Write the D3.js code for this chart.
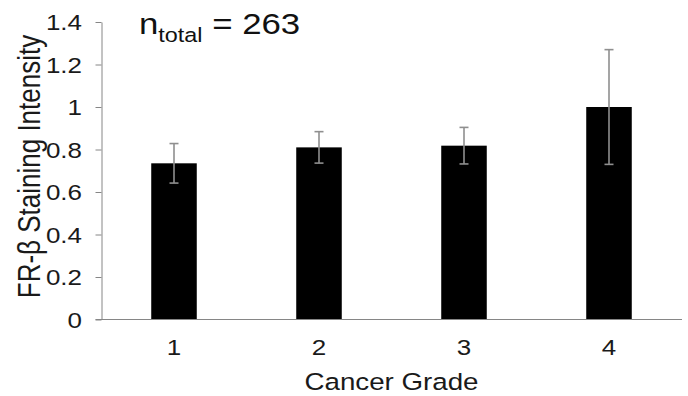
<!DOCTYPE html>
<html>
<head>
<meta charset="utf-8">
<script src="https://cdn.jsdelivr.net/npm/d3@7"></script>
<style>
  html, body { margin: 0; padding: 0; background: #fff; }
  svg { display: block; font-family: "Liberation Sans", Arial, sans-serif; }
</style>
</head>
<body>
<svg id="chart" width="688" height="396"></svg>
<script>
// Mean FR-β staining intensity by cancer grade, with error bars
const grades = ["1", "2", "3", "4"];
const meanIntensity = [0.735, 0.81, 0.818, 1.0];
const errorHalf = [0.093, 0.074, 0.086, 0.27];
const yTicks = [0, 0.2, 0.4, 0.6, 0.8, 1, 1.2, 1.4];
const yTickLabels = ["0", "0.2", "0.4", "0.6", "0.8", "1", "1.2", "1.4"];

const svg = d3.select("#chart");
const stretch = 1.18;          // text is drawn slightly wide
const axisColor = "#868686";
const errColor = "#8f8f8f";
const textColor = "#1a1a1a";
const fontFamily = "'Liberation Sans', Arial, sans-serif";

const x = d3.scaleBand()
  .domain(grades)
  .range([101.5, 681.5])
  .paddingInner(0.686)
  .paddingOuter(0.343);

const y = d3.scaleLinear()
  .domain([0, 1.4])
  .range([319.5, 22]);

// Y axis
const yAxis = svg.append("g")
  .attr("transform", "translate(101.5,0)")
  .call(d3.axisLeft(y)
    .tickValues(yTicks)
    .tickFormat((d, i) => yTickLabels[i])
    .tickSize(6)
    .tickSizeOuter(0));
yAxis.attr("font-family", fontFamily).attr("font-size", 22);
yAxis.select(".domain").attr("stroke", axisColor);
yAxis.selectAll(".tick line").attr("stroke", axisColor);
yAxis.selectAll(".tick text")
  .attr("x", null).attr("dy", null)
  .attr("transform", "translate(-19.5,7.8) scale(" + stretch + ",1)")
  .attr("text-anchor", "end")
  .attr("fill", textColor);

// Bars
svg.append("g").selectAll("rect")
  .data(grades)
  .join("rect")
  .attr("x", d => x(d))
  .attr("width", x.bandwidth())
  .attr("y", (d, i) => y(meanIntensity[i]))
  .attr("height", (d, i) => y(0) - y(meanIntensity[i]))
  .attr("fill", "#000");

// Error bars
const eb = svg.append("g")
  .attr("stroke", errColor)
  .attr("stroke-width", 1.6)
  .attr("fill", "none");
grades.forEach((g, i) => {
  const cx = x(g) + x.bandwidth() / 2;
  const lo = y(meanIntensity[i] - errorHalf[i]);
  const hi = y(meanIntensity[i] + errorHalf[i]);
  eb.append("line").attr("x1", cx).attr("x2", cx).attr("y1", lo).attr("y2", hi);
  eb.append("line").attr("x1", cx - 4.5).attr("x2", cx + 4.5).attr("y1", lo).attr("y2", lo);
  eb.append("line").attr("x1", cx - 4.5).attr("x2", cx + 4.5).attr("y1", hi).attr("y2", hi);
});

// X axis baseline
svg.append("line")
  .attr("x1", 95.5).attr("x2", 682)
  .attr("y1", y(0)).attr("y2", y(0))
  .attr("stroke", axisColor)
  .attr("stroke-width", 1);

// X tick labels
svg.append("g").selectAll("text")
  .data(grades)
  .join("text")
  .attr("transform", d => "translate(" + (x(d) + x.bandwidth() / 2) + ",355) scale(" + stretch + ",1)")
  .attr("text-anchor", "middle")
  .attr("font-family", fontFamily)
  .attr("font-size", 22)
  .attr("fill", textColor)
  .text(d => d);

// Axis titles
svg.append("text")
  .attr("transform", "translate(391.5,390) scale(" + stretch + ",1)")
  .attr("text-anchor", "middle")
  .attr("font-family", fontFamily)
  .attr("font-size", 23.5)
  .attr("fill", textColor)
  .text("Cancer Grade");

svg.append("text")
  .attr("transform", "translate(40,166.5) scale(" + stretch + ",1) rotate(-90)")
  .attr("text-anchor", "middle")
  .attr("font-family", fontFamily)
  .attr("font-size", 26)
  .attr("fill", textColor)
  .text("FR-β Staining Intensity");

// Sample size annotation
const note = svg.append("text")
  .attr("transform", "translate(139,34) scale(1.2,1)")
  .attr("font-family", fontFamily)
  .attr("font-size", 29)
  .attr("fill", "#111");
note.append("tspan").text("n");
note.append("tspan").attr("font-size", 19.5).attr("dy", 8).text("total");
note.append("tspan").attr("dy", -8).text(" = 263");
</script>
</body>
</html>
